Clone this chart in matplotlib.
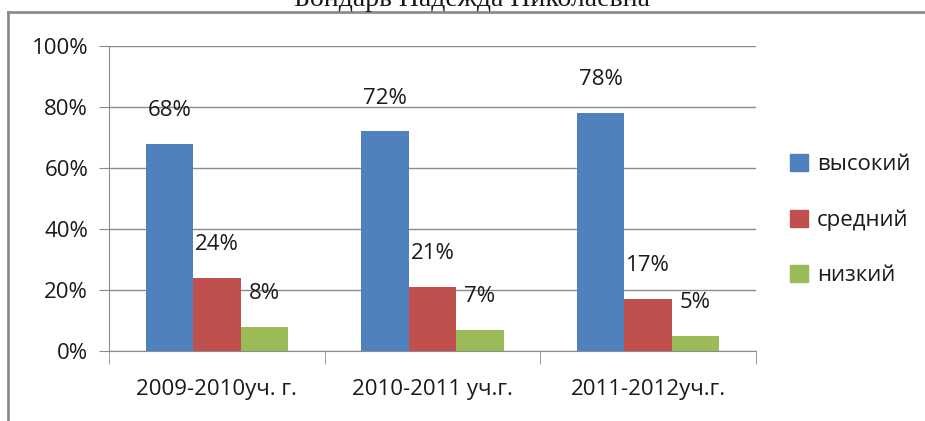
import matplotlib
matplotlib.use("Agg")
import matplotlib.pyplot as plt
import numpy as np
from matplotlib.patches import Rectangle
from matplotlib.lines import Line2D

categories = ["2009-2010уч. г.", "2010-2011 уч.г.", "2011-2012уч.г."]
series_names = ["высокий", "средний", "низкий"]
vysokiy = [68, 72, 78]
sredniy = [24, 21, 17]
nizkiy = [8, 7, 5]
yticks = [0, 20, 40, 60, 80, 100]
colors = ["#4F81BD", "#C0504D", "#9BBB59"]

plt.rcParams['font.family'] = ['Open Sans', 'DejaVu Sans']

fig = plt.figure(figsize=(9.25, 4.21), dpi=100)
ax = fig.add_axes([109/925, 1-351/421, (756-109)/925, (351-46)/421])

x = np.arange(len(categories))
w = 0.22
data = [vysokiy, sredniy, nizkiy]
for i, (vals, c, name) in enumerate(zip(data, colors, series_names)):
    pos = x + (i - 1) * w
    ax.bar(pos, vals, width=w, color=c, label=name, zorder=3)
    for p, v in zip(pos, vals):
        ax.annotate(f"{v}%", (p, v), xytext=(0, 24), textcoords="offset points",
                    ha="center", va="center", fontsize=16, color="#1a1a1a", zorder=4)

ax.set_xlim(-0.5, 2.5)
ax.set_ylim(0, 100)
ax.set_yticks(yticks)
ax.set_yticklabels([f"{t}%" for t in yticks], fontsize=16, color="#1a1a1a")
ax.yaxis.grid(True, color="#8c8c8c", linewidth=1.0, zorder=0)
ax.set_xticks(x)
ax.set_xticklabels(categories, fontsize=16, color="#1a1a1a")
ax.tick_params(axis='x', length=0, pad=20)
ax.tick_params(axis='y', length=7, color="#8c8c8c", pad=8)
ax.set_xticks([-0.5, 0.5, 1.5, 2.5], minor=True)
ax.tick_params(axis='x', which='minor', length=9, color="#8c8c8c", direction='out')
for s in ["top", "right"]:
    ax.spines[s].set_visible(False)
for s in ["left", "bottom"]:
    ax.spines[s].set_color("#8c8c8c")

handles = [Rectangle((0, 0), 1, 1, color=c) for c in colors]
leg = fig.legend(handles, series_names, loc="center left", bbox_to_anchor=(770/925, 1-220/421),
                 frameon=False, fontsize=16, handlelength=0.8, handleheight=0.8,
                 handletextpad=0.4, labelspacing=1.55)
for t in leg.get_texts():
    t.set_color("#1a1a1a")

# outer border
fig.add_artist(Line2D([8/925, 8/925], [0, 1-12/421], transform=fig.transFigure, color="#8c8c8c", linewidth=2))
fig.add_artist(Line2D([8/925, 1], [1-12/421, 1-12/421], transform=fig.transFigure, color="#8c8c8c", linewidth=2))

fig.text(472/925, 1+1/421, "Бондарь Надежда Николаевна", ha="center", va="center",
         fontsize=20, family=["Liberation Serif", "DejaVu Serif"], color="#1a1a1a")

fig.savefig("out.png", dpi=100)
